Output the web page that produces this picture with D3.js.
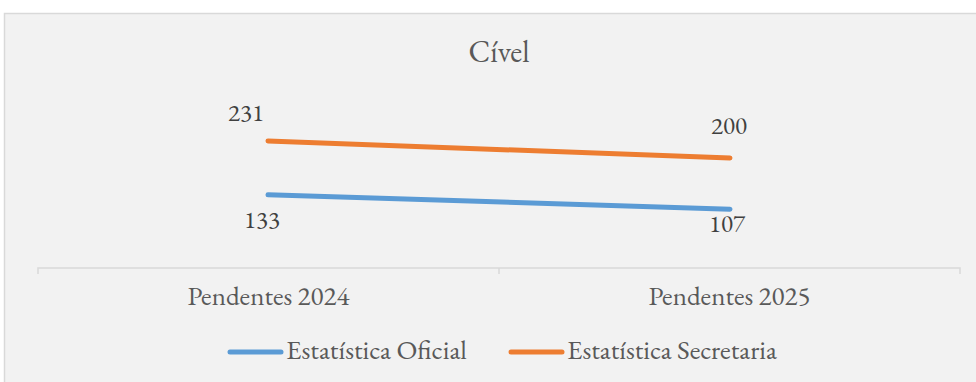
<!DOCTYPE html>
<html><head><meta charset="utf-8">
<script src="https://cdn.jsdelivr.net/npm/d3@7"></script>
</head><body style="margin:0;background:#fff"><svg id="c" width="976" height="382" style="display:block"></svg>
<script>
const categories = ["Pendentes 2024", "Pendentes 2025"];
const seriesNames = ["Estatística Oficial", "Estatística Secretaria"];
const oficial = [133, 107];
const secretaria = [231, 200];
const colors = ["#5b9bd5", "#ed7d31"];
const title = "Cível";
const FONT = "'EB Garamond', 'Liberation Serif', serif";

const svg = d3.select("#c");
svg.append("rect").attr("x",4.5).attr("y",13.5).attr("width",980).attr("height",380)
  .attr("fill","#f2f2f2").attr("stroke","#d9d9d9").attr("stroke-width",1.5);

const x = d3.scalePoint().domain(categories).range([268, 730]);
const xBand = d3.scaleBand().domain(categories).range([38, 960]);
const y = d3.scaleLinear().domain([0, 250]).range([268, 130.5]);

function fit(sel, w){ sel.each(function(){ const bb=this.getComputedTextLength(); if(bb>0){ const fs=parseFloat(this.style.fontSize); this.style.fontSize=(fs*w/bb)+"px";} }); }
function txt(parent){ return parent.append("text").style("font-family",FONT); }

txt(svg).attr("x",499).attr("y",62).attr("text-anchor","middle")
  .style("font-size","26px").attr("fill","#595959").text(title).call(fit, 61);

// axis
const ax = d3.axisBottom(xBand).tickSize(0).tickFormat("");
const g = svg.append("g").attr("transform","translate(0,268)").call(ax);
g.select(".domain").attr("stroke","#d9d9d9").attr("stroke-width",1.5).attr("d","M38,6V0H960V6");
const tickPos = categories.map(c=>xBand(c)+xBand.bandwidth()).slice(0,-1);
g.selectAll(".tk").data(tickPos).enter().append("line")
  .attr("x1",d=>d).attr("x2",d=>d).attr("y1",0).attr("y2",6).attr("stroke","#d9d9d9").attr("stroke-width",1.5);
categories.forEach(c=>{
  txt(svg).attr("x",xBand(c)+xBand.bandwidth()/2).attr("y",305).attr("text-anchor","middle")
    .style("font-size","20px").attr("fill","#595959").text(c).call(fit, 162);
});

const series = [oficial, secretaria];
const line = d3.line().x((d,i)=>x(categories[i])).y(d=>y(d));
series.forEach((s,k)=>{
  svg.append("path").attr("d",line(s)).attr("fill","none").attr("stroke",colors[k])
    .attr("stroke-width",5).attr("stroke-linecap","round");
});
// labels
const labOff = [[{dx:-6,dy:33},{dx:-3,dy:23}],[{dx:-22,dy:-20},{dx:-1,dy:-24}]];
series.forEach((s,k)=>{
  s.forEach((v,i)=>{
    txt(svg).attr("x",x(categories[i])+labOff[k][i].dx).attr("y",y(v)+labOff[k][i].dy)
      .attr("text-anchor","middle").style("font-size","22px").attr("fill","#404040").text(v).call(fit, 36);
  });
});

// legend
const leg = [{x:228},{x:509}];
const legW = [181, 210];
seriesNames.forEach((n,k)=>{
  svg.append("line").attr("x1",leg[k].x+2).attr("x2",leg[k].x+53).attr("y1",352).attr("y2",352)
    .attr("stroke",colors[k]).attr("stroke-width",5).attr("stroke-linecap","round");
  txt(svg).attr("x",leg[k].x+58).attr("y",359).style("font-size","20px").attr("fill","#595959").text(n).call(fit, legW[k]);
});
</script></body></html>
